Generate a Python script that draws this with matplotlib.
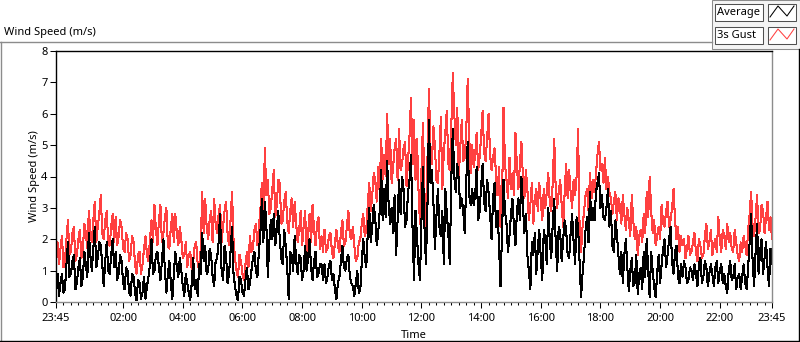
import numpy as np
import matplotlib
matplotlib.use("Agg")
import matplotlib.pyplot as plt
from matplotlib.ticker import MultipleLocator, FixedLocator
from matplotlib.lines import Line2D
from matplotlib.patches import Rectangle

plt.rcParams['font.family'] = ['Noto Sans', 'DejaVu Sans']

W, H = 800, 342
SAMPLE_MIN = 3  # one reading every 3 minutes, starting 23:45

# 3s gust (m/s), twenty readings per hour starting 23:45
GUST = [
    1.4, 1.9, 1.2, 1.7, 2.1, 1.1, 1.3, 2.0, 2.6, 1.5, 1.6, 2.2, 2.4, 1.3, 1.5, 2.0, 2.3, 1.4, 1.7, 2.5,
    2.2, 1.7, 2.9, 2.3, 1.9, 2.6, 3.2, 1.9, 2.4, 2.8, 3.4, 2.2, 2.0, 2.6, 2.9, 1.9, 1.8, 2.4, 2.8, 1.9,
    2.7, 1.8, 2.1, 2.6, 2.4, 1.7, 1.6, 2.2, 2.0, 1.3, 1.5, 2.1, 1.9, 1.2, 0.9, 1.5, 1.6, 0.9, 1.2, 1.7,
    2.1, 1.5, 1.3, 2.0, 2.6, 1.9, 3.1, 2.3, 1.8, 2.6, 3.1, 1.9, 2.2, 2.7, 3.0, 1.8, 1.7, 2.4, 2.8, 1.9,
    2.8, 2.2, 1.8, 2.4, 2.0, 1.4, 1.5, 1.9, 1.1, 1.5, 1.6, 1.0, 1.3, 1.8, 1.9, 1.2, 1.0, 1.7, 3.5, 2.2,
    3.3, 2.4, 2.0, 2.6, 2.9, 1.9, 3.3, 2.5, 2.2, 2.8, 3.1, 1.9, 2.4, 2.9, 3.2, 2.2, 1.8, 2.6, 3.5, 2.0,
    1.4, 1.0, 0.8, 1.5, 1.3, 0.9, 0.7, 1.2, 1.6, 1.1, 2.1, 1.6, 1.7, 2.3, 2.5, 1.8, 2.4, 2.9, 3.8, 2.6,
    4.9, 3.4, 3.9, 2.8, 3.0, 3.6, 4.2, 2.7, 3.1, 3.9, 3.8, 2.5, 2.6, 3.2, 3.5, 2.6, 2.2, 2.9, 3.3, 2.4,
    3.2, 2.5, 1.9, 2.3, 2.9, 1.8, 2.4, 2.9, 1.6, 2.2, 2.8, 1.9, 3.1, 2.3, 1.8, 2.5, 2.7, 1.7, 2.1, 1.6,
    2.3, 1.6, 1.7, 2.1, 2.2, 1.6, 1.4, 1.9, 2.3, 1.8, 1.6, 2.2, 2.6, 1.8, 1.9, 2.4, 2.9, 2.1, 2.0, 2.4,
    1.8, 1.3, 1.4, 1.9, 2.0, 2.5, 2.8, 2.1, 2.3, 3.1, 3.8, 2.9, 3.4, 4.1, 3.9, 3.2, 4.3, 3.5, 5.2, 3.9,
    4.7, 4.0, 6.0, 4.4, 5.2, 3.8, 4.3, 4.9, 5.2, 3.9, 5.5, 4.2, 4.4, 4.9, 5.1, 3.7, 4.5, 5.3, 6.5, 4.4,
    5.8, 3.9, 5.2, 3.6, 2.5, 4.2, 5.7, 3.5, 1.6, 4.5, 6.8, 5.0, 4.4, 5.6, 5.0, 3.9, 3.8, 4.7, 5.9, 3.6,
    4.8, 5.4, 6.1, 4.4, 4.2, 5.6, 7.3, 6.0, 5.0, 6.2, 4.0, 4.9, 5.8, 4.5, 4.6, 5.4, 7.1, 5.3, 4.1, 5.0,
    4.3, 4.7, 5.4, 4.2, 4.6, 5.3, 6.1, 4.8, 4.5, 5.2, 6.0, 4.7, 4.2, 4.6, 4.9, 4.0, 3.4, 4.3, 2.4, 3.2,
    6.2, 4.4, 3.9, 3.3, 4.6, 3.6, 4.1, 3.4, 5.4, 4.3, 3.6, 4.4, 5.1, 4.0, 3.3, 4.2, 3.6, 2.6, 3.1, 3.8,
    2.5, 3.3, 3.6, 2.9, 3.8, 3.2, 2.6, 3.6, 3.0, 3.5, 4.1, 3.2, 2.9, 3.8, 5.2, 3.6, 3.0, 3.5, 3.9, 3.1,
    2.4, 3.5, 4.4, 3.3, 4.2, 3.5, 3.0, 3.9, 3.4, 4.0, 5.5, 2.4, 1.6, 2.4, 2.9, 3.4, 3.6, 2.9, 4.1, 3.3,
    3.9, 3.5, 4.1, 4.7, 5.1, 4.2, 4.4, 3.8, 4.6, 3.6, 4.0, 3.5, 3.3, 2.8, 3.2, 3.5, 2.6, 3.3, 3.1, 2.5,
    3.4, 2.8, 2.3, 3.0, 2.6, 2.1, 3.4, 2.6, 2.0, 2.4, 1.5, 2.1, 2.3, 1.9, 2.8, 2.2, 3.5, 2.7, 4.0, 2.9,
    2.2, 2.6, 1.8, 2.1, 2.4, 2.0, 3.1, 2.5, 2.4, 2.9, 3.2, 2.4, 2.6, 3.0, 3.6, 2.6, 2.0, 2.4, 1.6, 2.1,
    1.8, 2.0, 1.4, 1.7, 2.1, 1.5, 1.6, 1.9, 2.2, 1.6, 1.3, 2.0, 1.8, 1.4, 1.5, 2.1, 2.5, 1.7, 1.9, 2.3,
    1.5, 1.8, 2.0, 1.6, 2.7, 2.0, 1.6, 2.3, 2.1, 1.7, 2.5, 1.9, 2.2, 1.7, 1.6, 2.3, 1.9, 1.5, 1.3, 1.9,
    1.6, 2.1, 1.8, 1.5, 2.3, 2.8, 3.5, 2.4, 2.1, 2.7, 3.4, 2.2, 2.3, 3.1, 2.9, 2.2, 2.7, 3.2, 2.3, 2.7,
    2.0,
]

# average wind speed (m/s), same timestamps
AVERAGE = [
    0.5, 0.9, 0.2, 0.6, 0.9, 0.3, 0.4, 1.2, 1.9, 0.8, 0.9, 1.3, 1.5, 0.4, 0.6, 1.1, 1.4, 0.5, 0.8, 1.6,
    1.2, 0.8, 2.2, 1.5, 1.0, 1.7, 2.4, 1.1, 1.4, 1.9, 1.8, 1.2, 0.5, 1.3, 1.9, 1.0, 0.9, 1.5, 2.0, 1.1,
    1.6, 0.7, 0.9, 1.5, 1.3, 0.6, 0.4, 1.1, 1.0, 0.3, 0.2, 0.9, 0.8, 0.3, 0.05, 0.7, 0.6, 0.1, 0.3, 0.8,
    0.1, 0.5, 0.8, 1.2, 2.0, 0.9, 1.0, 1.5, 1.6, 1.1, 0.7, 1.3, 2.0, 1.0, 0.3, 0.9, 1.3, 0.6, 0.1, 0.9,
    1.6, 1.1, 0.8, 1.4, 1.0, 0.5, 0.2, 0.9, 0.6, 0.3, 0.05, 0.6, 1.4, 0.4, 0.7, 0.2, 1.2, 0.9, 2.2, 1.3,
    1.8, 0.9, 1.0, 1.7, 1.5, 0.8, 0.5, 1.3, 1.4, 1.9, 2.8, 1.0, 0.7, 1.8, 1.5, 0.6, 0.9, 1.6, 2.4, 0.9,
    0.5, 0.2, 0.05, 0.8, 0.7, 0.3, 0.2, 0.7, 1.1, 0.4, 0.6, 1.0, 1.4, 1.6, 1.0, 0.8, 1.6, 2.2, 3.3, 1.9,
    3.2, 2.5, 0.8, 1.9, 2.6, 2.0, 2.8, 1.8, 2.3, 2.9, 2.0, 1.4, 1.2, 2.3, 1.8, 1.1, 0.1, 1.6, 1.5, 1.0,
    2.1, 1.3, 0.9, 1.5, 1.4, 0.7, 1.0, 1.8, 1.0, 1.4, 2.0, 1.1, 0.7, 1.3, 1.6, 0.8, 0.9, 1.2, 1.2, 0.7,
    1.2, 0.6, 0.8, 1.2, 1.3, 0.7, 0.9, 0.4, 0.1, 0.6, 0.8, 1.3, 1.8, 1.1, 1.0, 1.4, 1.5, 0.8, 0.6, 0.5,
    0.2, 0.6, 1.0, 0.3, 0.4, 1.3, 2.0, 1.4, 1.1, 2.2, 3.0, 1.9, 2.4, 3.1, 2.7, 1.8, 2.2, 2.9, 4.2, 2.6,
    3.6, 2.7, 4.5, 3.1, 2.5, 3.0, 2.2, 3.4, 1.5, 2.6, 3.9, 2.8, 4.0, 3.6, 2.4, 2.6, 3.5, 3.9, 4.7, 2.4,
    0.7, 2.9, 2.1, 1.2, 0.7, 2.6, 4.3, 2.4, 1.2, 3.0, 5.8, 3.8, 4.2, 3.2, 1.7, 2.7, 3.6, 2.4, 2.1, 2.9,
    1.2, 3.6, 2.8, 2.2, 1.2, 3.9, 5.5, 4.0, 3.5, 4.4, 3.9, 3.0, 3.3, 2.9, 2.2, 3.8, 5.1, 3.4, 3.1, 3.6,
    3.1, 3.4, 4.3, 2.6, 2.9, 3.7, 4.4, 3.2, 2.9, 3.9, 3.5, 2.8, 2.0, 3.3, 3.8, 2.4, 2.9, 1.8, 0.5, 2.2,
    3.9, 2.9, 2.5, 1.6, 2.1, 2.8, 3.3, 2.4, 1.8, 2.9, 3.3, 2.6, 4.0, 3.1, 2.2, 2.8, 1.5, 1.0, 0.4, 1.9,
    1.5, 2.2, 0.9, 1.7, 2.3, 1.4, 0.7, 2.3, 2.0, 1.2, 3.0, 2.0, 1.4, 2.5, 3.3, 1.9, 1.0, 2.4, 2.2, 1.3,
    2.0, 2.6, 2.3, 1.5, 1.4, 2.2, 2.8, 1.9, 1.2, 2.7, 2.4, 1.3, 0.15, 0.9, 1.5, 2.3, 2.7, 1.9, 3.5, 2.6,
    3.0, 2.6, 3.5, 3.8, 4.1, 3.0, 3.4, 2.7, 2.6, 3.0, 3.6, 2.4, 2.9, 1.8, 1.6, 2.6, 2.2, 1.5, 0.9, 1.6,
    0.6, 1.5, 2.0, 1.1, 0.35, 1.0, 1.4, 0.5, 0.6, 1.5, 0.25, 0.9, 1.1, 0.4, 1.6, 0.8, 2.0, 1.0, 0.15, 1.6,
    1.0, 0.5, 0.15, 0.9, 1.5, 0.6, 1.2, 1.7, 2.0, 1.1, 1.5, 2.0, 2.4, 1.3, 0.9, 1.6, 1.8, 0.8, 0.6, 1.2,
    0.8, 1.3, 1.1, 0.6, 0.7, 1.1, 1.0, 0.7, 1.2, 0.9, 0.5, 1.2, 1.4, 0.6, 0.8, 1.3, 1.1, 0.5, 0.9, 1.2,
    0.9, 0.5, 1.1, 1.3, 0.6, 1.0, 1.2, 0.6, 0.9, 0.5, 0.3, 1.0, 1.3, 0.7, 0.8, 1.2, 0.4, 0.8, 0.9, 0.4,
    0.8, 1.2, 0.6, 0.4, 1.1, 1.9, 2.8, 1.3, 0.5, 1.6, 2.5, 0.9, 1.6, 2.0, 0.9, 1.4, 1.9, 1.1, 0.5, 1.7,
    1.2,
]

TICK_HOURS = [0, 2.25, 4.25, 6.25, 8.25, 10.25, 12.25, 14.25, 16.25, 18.25, 20.25, 22.25, 24]
TICK_LABELS = ['23:45', '02:00', '04:00', '06:00', '08:00', '10:00', '12:00',
               '14:00', '16:00', '18:00', '20:00', '22:00', '23:45']

GUST_RED = '#ff4040'
GREY = '#8c8c8c'


def fx(x):
    return x / W


def fy(y):
    return 1 - y / H


hours = np.arange(len(GUST)) * SAMPLE_MIN / 60.0

fig = plt.figure(figsize=(W / 100, H / 100), dpi=100)
fig.patch.set_facecolor('white')

# plot area: x 56..772 px, y 51..302 px
ax = fig.add_axes([fx(56), fy(302), fx(772) - fx(56), fy(51) - fy(302)])
ax.plot(hours, GUST, color=GUST_RED, lw=0.75, antialiased=False)
ax.plot(hours, AVERAGE, color='black', lw=0.75, antialiased=False)

ax.set_xlim(0, 24)
ax.set_ylim(0, 8)
ax.xaxis.set_major_locator(FixedLocator(TICK_HOURS))
ax.set_xticklabels(TICK_LABELS)
ax.xaxis.set_minor_locator(MultipleLocator(0.25))
ax.yaxis.set_major_locator(MultipleLocator(1))
ax.tick_params(axis='both', which='major', labelsize=8, length=4, width=0.75,
               color='black', pad=2)
ax.tick_params(axis='x', which='minor', length=2.5, width=0.75, color='black')
ax.tick_params(axis='x', which='major', length=4.5, pad=3.5)

ax.spines['top'].set_color('black')
ax.spines['left'].set_color('black')
ax.spines['right'].set_color(GREY)
ax.spines['bottom'].set_color(GREY)
for s in ax.spines.values():
    s.set_linewidth(1.0)

ax.set_ylabel('Wind Speed (m/s)', fontsize=8, labelpad=1)
ax.set_xlabel('Time', fontsize=8, labelpad=4)

# chart title in the top-left corner
fig.text(fx(4), fy(32), 'Wind Speed (m/s)', fontsize=8, ha='left', va='center')

# outer sunken frame
fig.add_artist(Line2D([fx(0), fx(712)], [fy(42), fy(42)], color=GREY, lw=1.0))
fig.add_artist(Line2D([fx(0.5), fx(0.5)], [fy(42), fy(342)], color=GREY, lw=1.0))
fig.add_artist(Line2D([fx(0), fx(799)], [fy(341), fy(341)], color='black', lw=1.0))
fig.add_artist(Line2D([fx(798.5), fx(798.5)], [fy(49), fy(342)], color='black', lw=1.0))

# legend block in the top-right corner
fig.add_artist(Rectangle((fx(712), fy(49)), fx(800) - fx(712), fy(0) - fy(49),
                         facecolor='#f4f4f4', edgecolor=GREY, lw=0.75))
for row, (name, col) in enumerate([('Average', 'black'), ('3s Gust', GUST_RED)]):
    top = 4 + row * 23
    fig.add_artist(Rectangle((fx(715), fy(top + 17)), fx(763) - fx(715), fy(top) - fy(top + 17),
                             facecolor='white', edgecolor='#505050', lw=0.75))
    fig.text(fx(717), fy(top + 8.5), name, fontsize=8, ha='left', va='center')
    fig.add_artist(Rectangle((fx(768), fy(top + 17)), fx(796) - fx(768), fy(top) - fy(top + 17),
                             facecolor='white', edgecolor='#505050', lw=0.75))
    zx = [770, 778, 787, 794]
    zy = [top + 13, top + 2, top + 12, top + 2]
    fig.add_artist(Line2D([fx(v) for v in zx], [fy(v) for v in zy], color=col, lw=0.75))

fig.savefig('out.png', dpi=100)
